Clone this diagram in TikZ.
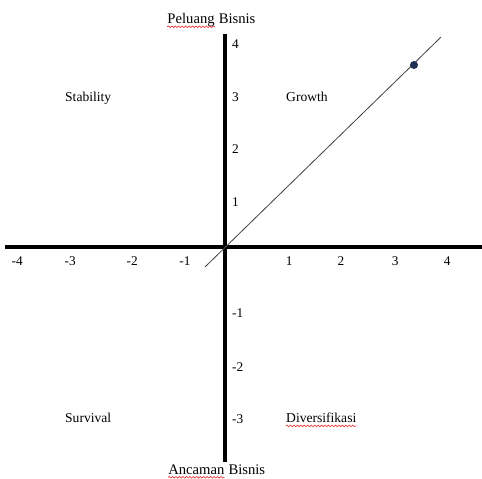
\documentclass[tikz,border=0pt]{standalone}
\usepackage{fontspec}
\setmainfont{Liberation Serif}
\usetikzlibrary{positioning, decorations.pathmorphing}
\definecolor{zdot}{RGB}{31,48,84}
\definecolor{zline}{RGB}{64,64,64}
\definecolor{zspell}{RGB}{230,40,40}

\begin{document}
\begin{tikzpicture}[x=1.4cm, y=1.4cm,
  axis/.style={line width=3pt, black},
  trend/.style={line width=0.6pt, zline},
  ticklbl/.style={font=\fontsize{10}{12}\selectfont, inner sep=0pt},
  quadlbl/.style={font=\fontsize{10.2}{12}\selectfont, anchor=base west, inner sep=0pt},
  axislbl/.style={font=\fontsize{11}{13}\selectfont, inner sep=0pt},
  spell/.style={zspell, line width=0.45pt,
                decorate, decoration={snake, amplitude=0.6pt, segment length=2.6pt}},
  ptdot/.style={circle, fill=zdot, inner sep=0pt, minimum size=6pt}
]
\useasboundingbox[fill=white] (-4.245,-4.377) rectangle (4.849,4.66);

% Axes
\coordinate (o)  at (0,0);
\coordinate (xl) at (-4.15,0);
\coordinate (xr) at (4.85,0);
\coordinate (yt) at (0,4.02);
\coordinate (yb) at (0,-4.06);
\draw[axis] (xl) -- (xr);
\draw[axis] (yb) -- (yt);

% Line through the origin and the marked point
\coordinate (t0) at (-0.377,-0.377);
\coordinate (t1) at (4.075,3.96);
\draw[trend] (t0) -- (t1);
\node[ptdot] (pos) at (3.566,3.434) {};

% Tick labels
\foreach \v/\x in {-4/-3.92, -3/-2.92, -2/-1.75, -1/-0.755, 1/1.21, 2/2.19, 3/3.21, 4/4.19}
  \node[ticklbl] (x\v) at (\x,-0.264) {\v};
\foreach \v/\y in {4/3.83, 3/2.83, 2/1.85, 1/0.85, -1/-1.245, -2/-2.264, -3/-3.245}
  \node[ticklbl, anchor=west] (y\v) at (0.13,\y) {\v};

% Quadrants
\node[quadlbl] (stab) at (-3.02,2.75)  {Stability};
\node[quadlbl] (grow) at (1.15,2.75)   {Growth};
\node[quadlbl] (surv) at (-3.02,-3.32) {Survival};
\node[quadlbl] (div)  at (1.15,-3.32)  {Diversifikasi};

% Axis titles
\node[axislbl, anchor=base west] (upw)   at (-1.09,4.21) {Peluang};
\node[axislbl, anchor=base west] (upb)   at ([xshift=2.75pt]upw.base east) {Bisnis};
\node[axislbl, anchor=base west] (downw) at (-1.075,-4.30) {Ancaman};
\node[axislbl, anchor=base west] (downb) at ([xshift=2.75pt]downw.base east) {Bisnis};

% Spelling marks
\draw[spell] ([yshift=-2.2pt]upw.base west)   -- ([yshift=-2.2pt]upw.base east);
\draw[spell] ([yshift=-1.8pt]downw.base west) -- ([yshift=-1.8pt]downw.base east);
\draw[spell] ([yshift=-2.2pt]div.base west)   -- ([yshift=-2.2pt]div.base east);

\end{tikzpicture}
\end{document}
